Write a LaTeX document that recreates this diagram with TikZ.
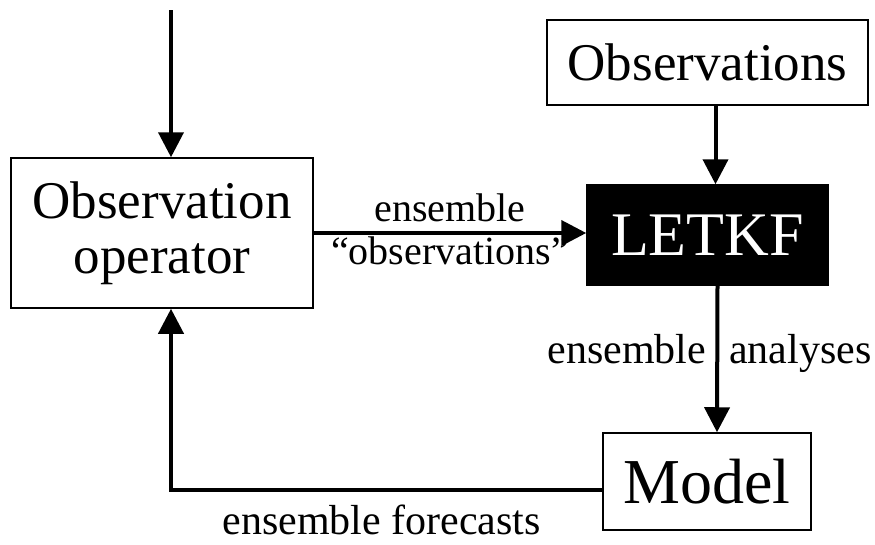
\documentclass[tikz,border=0pt]{standalone}
\usepackage{fontspec}
\setmainfont{Liberation Serif}
\usetikzlibrary{arrows.meta}

\begin{document}
\begin{tikzpicture}[x=1pt,y=-1pt,
    box/.style={draw, line width=1.5pt, inner sep=0pt, align=center},
    flow/.style={line width=4pt, -{Triangle[length=25pt,width=25pt]}},
    lbl/.style={inner sep=0pt, font=\fontsize{42}{44}\selectfont}]
  \useasboundingbox (0,0) rectangle (875,544);
  \node [box, minimum width=302pt, minimum height=150pt, font=\fontsize{53}{55}\selectfont] (obsop) at (162,233) {Observation\\operator};
  \node [box, minimum width=321pt, minimum height=85pt, font=\fontsize{53}{55}\selectfont] (obs) at (707.5,62.5) {Observations};
  \node [box, fill=black, text=white, minimum width=241pt, minimum height=100pt, font=\fontsize{62}{64}\selectfont] (letkf) at (707.5,235) {LETKF};
  \node [box, minimum width=208pt, minimum height=97pt, font=\fontsize{64}{66}\selectfont] (model) at (707,481.5) {Model};
  \coordinate (src) at (171,10);
  % arrows
  \draw [flow] (src) -- ([xshift=9pt]obsop.north);
  \draw [flow] ([xshift=8pt]obs.south) -- ([xshift=8pt]letkf.north);
  \draw [flow] (obsop.east) -- node [lbl, font=\fontsize{40}{42}\selectfont, anchor=base, yshift=12pt] {ensemble}
    node [lbl, font=\fontsize{40}{42}\selectfont, anchor=base, yshift=-31pt] {``observations''} (obsop.east -| letkf.west);
  \draw [flow] ([xshift=10pt]letkf.south) -- node [lbl, pos=0.53, anchor=base east, xshift=-9pt] {ensemble}
    node [lbl, pos=0.53, anchor=base west, xshift=10pt] {analyses} ([xshift=10pt]model.north);
  \draw [flow] ([yshift=-8pt]model.west) -| node [lbl, pos=0.25, anchor=base, xshift=-5pt, yshift=-45pt] {ensemble forecasts} ([xshift=9pt]obsop.south);
\end{tikzpicture}
\end{document}
